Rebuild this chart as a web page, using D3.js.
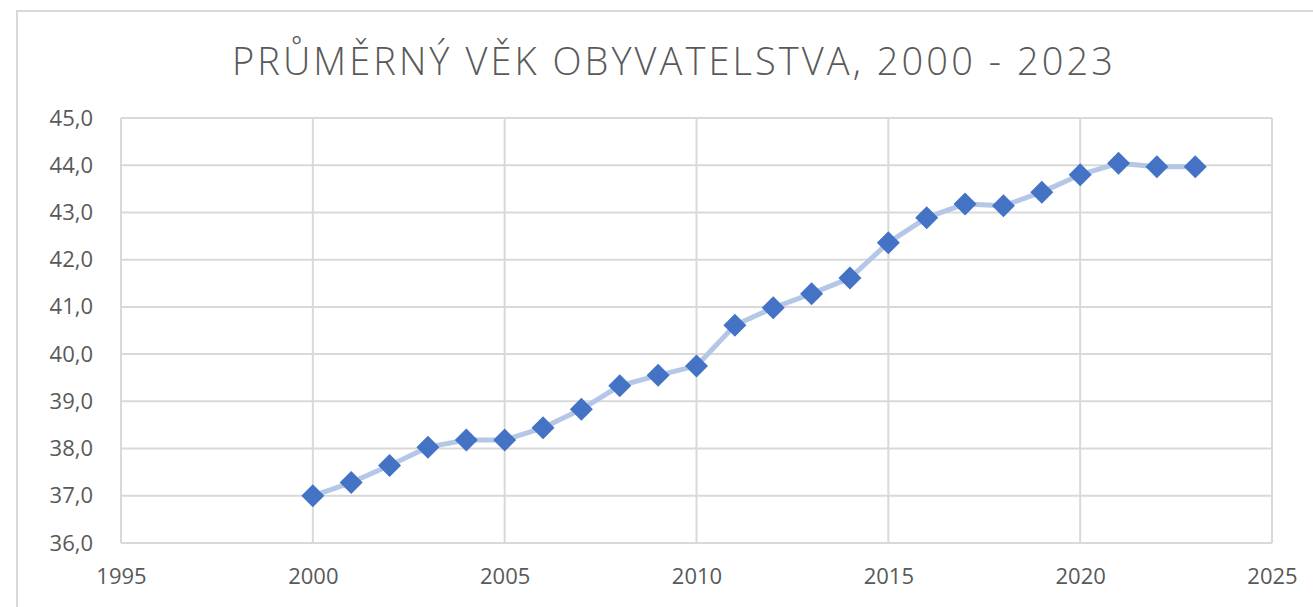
<!DOCTYPE html>
<html>
<head>
<meta charset="utf-8">
<script src="https://cdn.jsdelivr.net/npm/d3@7"></script>
<style>
  html, body { margin: 0; padding: 0; background: #fff; }
  svg { display: block; }
</style>
</head>
<body>
<svg id="chart" width="1313" height="607"></svg>
<script>
const title = "PRŮMĚRNÝ VĚK OBYVATELSTVA, 2000 - 2023";
const years = [2000,2001,2002,2003,2004,2005,2006,2007,2008,2009,2010,2011,2012,2013,2014,2015,2016,2017,2018,2019,2020,2021,2022,2023];
const values = [37.0,37.28,37.64,38.03,38.18,38.18,38.44,38.83,39.33,39.55,39.75,40.61,40.98,41.28,41.61,42.36,42.89,43.18,43.14,43.43,43.80,44.04,43.97,43.97];
const xTicks = [1995,2000,2005,2010,2015,2020,2025];
const yTicks = [36,37,38,39,40,41,42,43,44,45];

const svg = d3.select("#chart");
const plot = {left: 121, right: 1272, top: 118, bottom: 543};

// chart border
svg.append("rect").attr("x", 17).attr("y", 11).attr("width", 1313).attr("height", 700)
  .attr("fill", "none").attr("stroke", "#d9d9d9").attr("stroke-width", 2);

const x = d3.scaleLinear().domain([1995, 2025]).range([plot.left, plot.right]);
const y = d3.scaleLinear().domain([36, 45]).range([plot.bottom, plot.top]);

const fmt = d => d.toFixed(1).replace(".", ",");

// gridlines
svg.append("g").selectAll("line.h").data(yTicks).join("line")
  .attr("x1", plot.left).attr("x2", plot.right)
  .attr("y1", d => y(d)).attr("y2", d => y(d))
  .attr("stroke", "#d9d9d9").attr("stroke-width", 2);
svg.append("g").selectAll("line.v").data(xTicks).join("line")
  .attr("y1", plot.top).attr("y2", plot.bottom)
  .attr("x1", d => x(d)).attr("x2", d => x(d))
  .attr("stroke", "#d9d9d9").attr("stroke-width", 2);

// axes labels via d3 axes
const yAxis = d3.axisLeft(y).tickValues(yTicks).tickFormat(fmt).tickSize(0).tickPadding(28);
const gy = svg.append("g").attr("transform", `translate(${plot.left},0)`).call(yAxis);
gy.select(".domain").remove();
gy.selectAll("text").attr("font-family", "'Open Sans', sans-serif").attr("font-size", 22).attr("fill", "#595959");

const xAxis = d3.axisBottom(x).tickValues(xTicks).tickFormat(d3.format("d")).tickSize(0).tickPadding(25);
const gx = svg.append("g").attr("transform", `translate(0,${plot.bottom})`).call(xAxis);
gx.select(".domain").remove();
gx.selectAll("text").attr("font-family", "'Open Sans', sans-serif").attr("font-size", 22).attr("fill", "#595959");

// line
const data = years.map((yr, i) => ({yr, v: values[i]}));
svg.append("path").datum(data)
  .attr("d", d3.line().x(d => x(d.yr)).y(d => y(d.v)))
  .attr("fill", "none").attr("stroke", "#b4c7e7").attr("stroke-width", 5).attr("stroke-linejoin", "round");

// markers
svg.append("g").selectAll("path").data(data).join("path")
  .attr("transform", d => `translate(${x(d.yr)},${y(d.v)})`)
  .attr("d", "M0,-11.5L11.5,0L0,11.5L-11.5,0Z")
  .attr("fill", "#4472c4");

// title
svg.append("text").attr("x", 232).attr("y", 75)
  .attr("font-family", "'Open Sans', sans-serif").attr("font-weight", 300)
  .attr("font-size", 38).attr("fill", "#595959")
  .attr("textLength", 881).attr("lengthAdjust", "spacing")
  .text(title);
</script>
</body>
</html>
